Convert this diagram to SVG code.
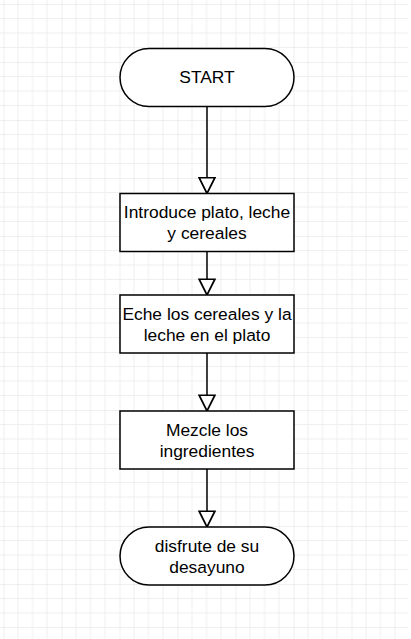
<svg xmlns="http://www.w3.org/2000/svg" width="411" height="639" viewBox="0 0 411 639">
<style>
.shape{fill:#ffffff;stroke:#000000;stroke-width:1.5}
.lbl{font-family:"Liberation Sans",Arial,sans-serif;font-size:17.4px;fill:#000000;text-anchor:middle}
.edge{fill:none;stroke:#000000;stroke-width:1.5}
</style>
<defs>
<pattern id="grid" x="3.5" y="4" width="58" height="58" patternUnits="userSpaceOnUse">
<path d="M14.5 0V58M29 0V58M43.5 0V58M0 14.5H58M0 29H58M0 43.5H58" fill="none" stroke="#efefef" stroke-width="1"/>
<path d="M0 0V58M0 0H58" fill="none" stroke="#e0e0e0" stroke-width="1"/>
</pattern>
<marker id="arrow" markerUnits="userSpaceOnUse" markerWidth="18" markerHeight="18" viewBox="-1 -8 16 16" refX="14" refY="0" orient="auto">
<path d="M0 -7L14 0L0 7Z" fill="#ffffff" stroke="#000000" stroke-width="1.5"/>
</marker>
</defs>
<rect width="411" height="639" fill="#ffffff"/>
<rect width="408" height="639" fill="url(#grid)"/>
<g id="connectors">
<path class="edge" d="M207 106.5V193.5" marker-end="url(#arrow)"/>
<path class="edge" d="M207 251.5V295" marker-end="url(#arrow)"/>
<path class="edge" d="M207 353V411" marker-end="url(#arrow)"/>
<path class="edge" d="M207 469V527" marker-end="url(#arrow)"/>
</g>
<g id="start">
<rect class="shape" x="120" y="48.5" width="174" height="58" rx="29" ry="29"/>
<text class="lbl" x="207" y="83">START</text>
</g>
<g id="step1">
<rect class="shape" x="120" y="193.5" width="174" height="58"/>
<text class="lbl" x="207" y="218">Introduce plato, leche</text>
<text class="lbl" x="207" y="239">y cereales</text>
</g>
<g id="step2">
<rect class="shape" x="120" y="295" width="174" height="58"/>
<text class="lbl" x="207" y="319.5">Eche los cereales y la</text>
<text class="lbl" x="207" y="340.5">leche en el plato</text>
</g>
<g id="step3">
<rect class="shape" x="120" y="411" width="174" height="58"/>
<text class="lbl" x="207" y="435.5">Mezcle los</text>
<text class="lbl" x="207" y="456.5">ingredientes</text>
</g>
<g id="end">
<rect class="shape" x="120" y="527" width="174" height="58" rx="29" ry="29"/>
<text class="lbl" x="207" y="551.5">disfrute de su</text>
<text class="lbl" x="207" y="572.5">desayuno</text>
</g>
</svg>
